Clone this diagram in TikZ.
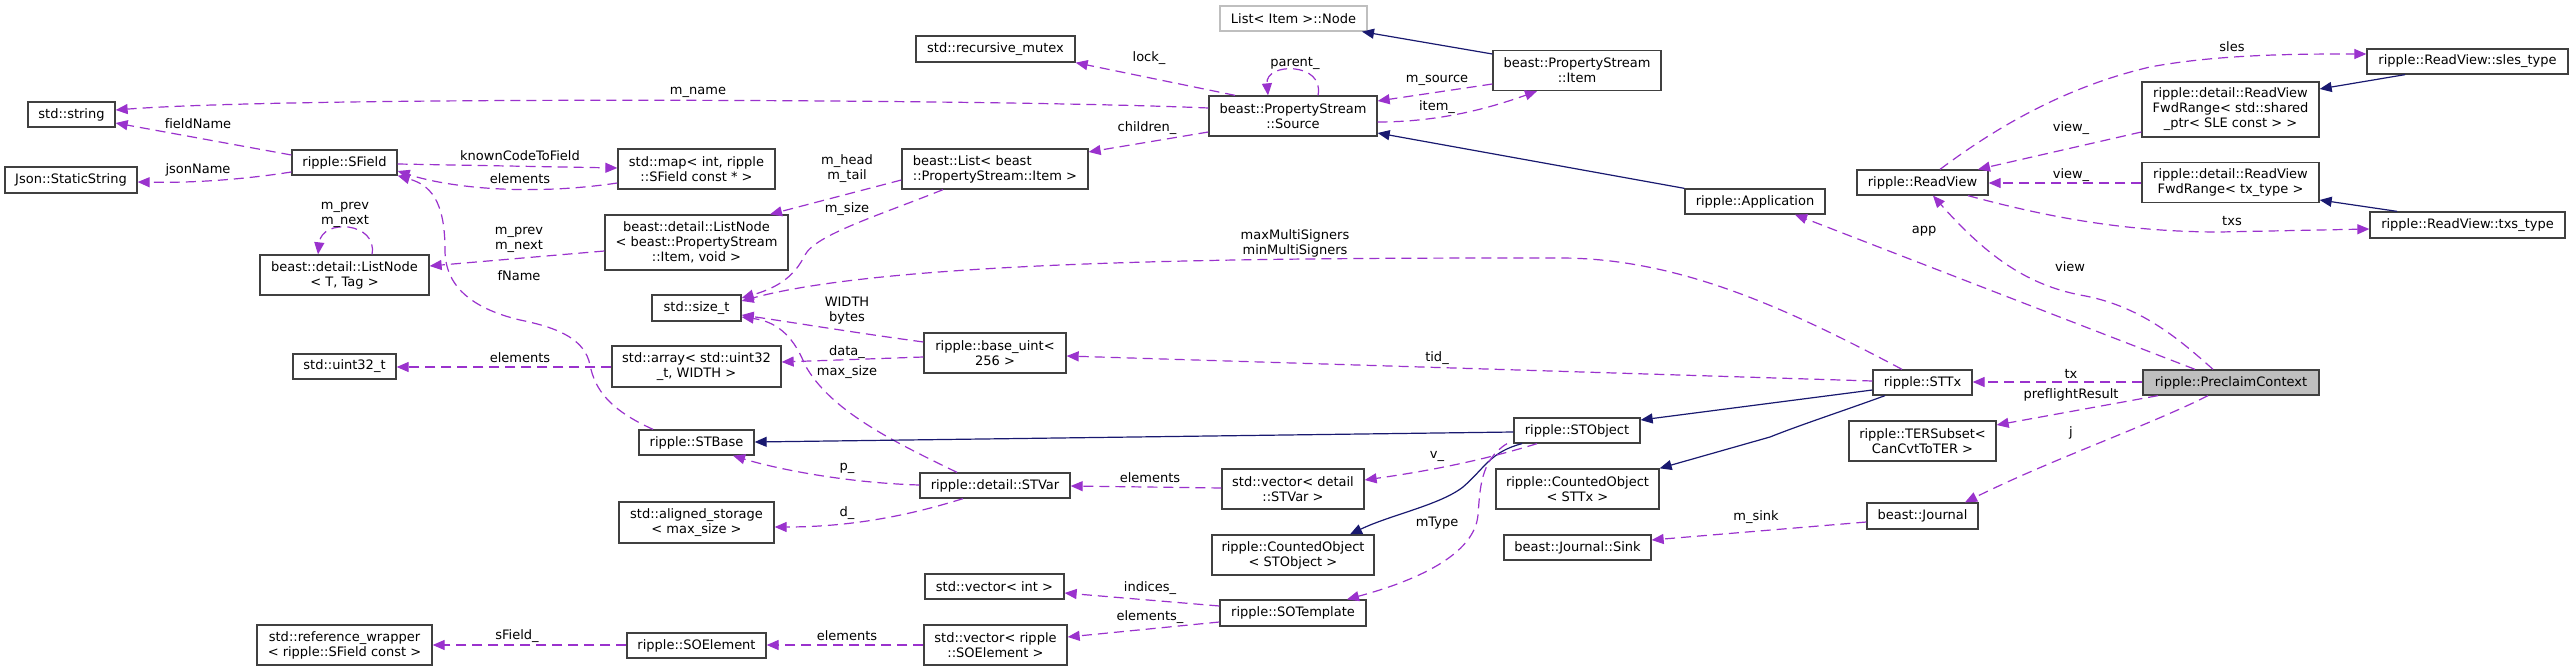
\documentclass[tikz,border=0pt]{standalone}
\usepackage{fontspec}
\setmainfont[Ligatures=NoCommon]{DejaVu Sans}
\usetikzlibrary{arrows.meta}
\definecolor{cuse}{HTML}{9A32CD}
\definecolor{cinh}{HTML}{191970}
\definecolor{cbord}{HTML}{404040}
\definecolor{lgray}{HTML}{BFBFBF}
\newcommand\dfs{\fontsize{13}{15}\selectfont}
\tikzset{
 box/.style={draw=cbord, line width=1.3pt, fill=white, inner sep=0pt, align=center, font=\dfs},
 uses/.style={color=cuse, line width=1.2pt, dash pattern=on 10pt off 6pt, -{Triangle[length=12pt,width=10pt]}},
 inherits/.style={color=cinh, line width=1.2pt, -{Triangle[length=12pt,width=10pt]}},
 lbl/.style={font=\dfs, inner sep=0pt, align=center},
}
\begin{document}
\begin{tikzpicture}[x=1pt,y=-1pt]
\fill[white] (0,0) rectangle (2573,671);
\useasboundingbox (0,0) rectangle (2573,671);
% nodes
\node[box, minimum width=87pt, minimum height=25pt] (string) at (71.5,114.5) {std::string};
\node[box, minimum width=132pt, minimum height=26pt] (json) at (71,180) {Json::StaticString};
\node[box, minimum width=105pt, minimum height=25pt] (sfield) at (344.5,162.5) {ripple::SField};
\node[box, minimum width=169pt, minimum height=40pt] (lnT) at (344.5,275) {beast::detail::ListNode\\< T, Tag >};
\node[box, minimum width=103pt, minimum height=25pt] (u32) at (344.5,366.5) {std::uint32\_t};
\node[box, minimum width=175pt, minimum height=40pt] (refw) at (344.5,645) {std::reference\_wrapper\\< ripple::SField const >};
\node[box, minimum width=157pt, minimum height=40pt] (map) at (696.5,169) {std::map< int, ripple\\::SField const * >};
\node[box, minimum width=183pt, minimum height=55pt] (lnI) at (696.5,242.5) {beast::detail::ListNode\\< beast::PropertyStream\\::Item, void >};
\node[box, minimum width=89pt, minimum height=26pt] (sizet) at (696.5,308) {std::size\_t};
\node[box, minimum width=169pt, minimum height=41pt] (array) at (696.5,366.5) {std::array< std::uint32\\\_t, WIDTH >};
\node[box, minimum width=115pt, minimum height=25pt] (stbase) at (696.5,442.5) {ripple::STBase};
\node[box, minimum width=155pt, minimum height=41pt] (aligned) at (696.5,522.5) {std::aligned\_storage\\< max\_size >};
\node[box, minimum width=139pt, minimum height=25pt] (soel) at (696.5,645.5) {ripple::SOElement};
\node[box, draw=lgray, minimum width=147pt, minimum height=25pt] (lnode) at (1293.5,18.5) {List< Item >::Node};
\node[box, minimum width=159pt, minimum height=26pt] (mutex) at (995.5,49) {std::recursive\_mutex};
\node[box, minimum width=168pt, minimum height=40pt] (source) at (1293,116) {beast::PropertyStream\\::Source};
\node[box, align=left, minimum width=186pt, minimum height=40pt] (blist) at (995,169) {beast::List< beast\\::PropertyStream::Item >};
\node[box, minimum width=142pt, minimum height=40pt] (baseuint) at (995,353) {ripple::base\_uint<\\256 >};
\node[box, minimum width=150pt, minimum height=25pt] (stvar) at (995,485.5) {ripple::detail::STVar};
\node[box, minimum width=142pt, minimum height=40pt] (vecstvar) at (1293,489) {std::vector< detail\\::STVar >};
\node[box, minimum width=162pt, minimum height=40pt] (costobj) at (1293,555) {ripple::CountedObject\\< STObject >};
\node[box, minimum width=139pt, minimum height=25pt] (vecint) at (994.5,586.5) {std::vector< int >};
\node[box, minimum width=143pt, minimum height=40pt] (vecsoel) at (995.5,645) {std::vector< ripple\\::SOElement >};
\node[box, minimum width=146pt, minimum height=26pt] (sotempl) at (1293,613) {ripple::SOTemplate};
\node[box, minimum width=168pt, minimum height=40pt] (psitem) at (1577,70.5) {beast::PropertyStream\\::Item};
\node[box, minimum width=140pt, minimum height=25pt] (app) at (1755,201.5) {ripple::Application};
\node[box, minimum width=126pt, minimum height=25pt] (stobj) at (1577,430.5) {ripple::STObject};
\node[box, minimum width=163pt, minimum height=40pt] (costtx) at (1577.5,489) {ripple::CountedObject\\< STTx >};
\node[box, minimum width=147pt, minimum height=25pt] (sink) at (1577.5,547.5) {beast::Journal::Sink};
\node[box, minimum width=131pt, minimum height=25pt] (readview) at (1922.5,182.5) {ripple::ReadView};
\node[box, minimum width=177pt, minimum height=55pt] (fwd1) at (2230.5,109.5) {ripple::detail::ReadView\\FwdRange< std::shared\\\_ptr< SLE const > >};
\node[box, minimum width=177pt, minimum height=40pt] (fwd2) at (2230.5,182.5) {ripple::detail::ReadView\\FwdRange< tx\_type >};
\node[box, minimum width=201pt, minimum height=25pt] (slestype) at (2467.5,61.5) {ripple::ReadView::sles\_type};
\node[box, minimum width=195pt, minimum height=26pt] (txstype) at (2467.5,225) {ripple::ReadView::txs\_type};
\node[box, minimum width=99pt, minimum height=25pt] (sttx) at (1922.5,382.5) {ripple::STTx};
\node[box, minimum width=147pt, minimum height=40pt] (ter) at (1922.5,441) {ripple::TERSubset<\\CanCvtToTER >};
\node[box, minimum width=111pt, minimum height=26pt] (journal) at (1922.5,516) {beast::Journal};
\node[box, fill=lgray, minimum width=176pt, minimum height=25pt] (pc) at (2231,382.5) {ripple::PreclaimContext};
% edges
\draw[uses] (sfield.west |- 0,155) -- (string.east |- 0,123);
\draw[uses] (source.west |- 0,108) .. controls (1000,99) and (300,96) .. (string.east |- 0,110);
\draw[uses] (sfield.west |- 0,172) .. controls (240,180) and (190,183) .. (json.east |- 0,182);
\draw[uses] (sfield.east |- 0,164) -- (map.west |- 0,168);
\draw[uses] (map.west |- 0,183) .. controls (530,196) and (450,188) .. (sfield.east |- 0,171);
\draw[uses] (stbase.north -| 653,0) .. controls (610,410) and (595,390) .. (590,365) .. controls (585,340) and (560,328) .. (520,320) .. controls (470,308) and (445,285) .. (445,250) .. controls (445,200) and (430,185) .. (sfield.south east);
\draw[uses] (lnT.north -| 372,0) .. controls (378,222) and (322,218) .. (lnT.north -| 318,0);
\draw[uses] (lnI.west |- 0,251) -- (lnT.east |- 0,266);
\draw[uses] (blist.west |- 0,180) -- (lnI.north -| 770,0);
\draw[uses] (blist.south -| 943,0) .. controls (880,215) and (815,235) .. (805,255) .. controls (795,275) and (780,287) .. (sizet.east |- 0,298);
\draw[uses] (sttx.north -| 1902,0) .. controls (1790,310) and (1680,258) .. (1560,258) .. controls (1300,258) and (900,258) .. (sizet.east |- 0,301);
\draw[uses] (baseuint.west |- 0,342) .. controls (850,332) and (790,322) .. (sizet.east |- 0,315);
\draw[uses] (stvar.north -| 957,0) .. controls (890,440) and (830,410) .. (805,365) .. controls (795,340) and (780,322) .. (sizet.east |- 0,317);
\draw[uses] (baseuint.west |- 0,357) -- (array.east |- 0,362);
\draw[uses] (array.west |- 0,367) -- (u32.east |- 0,367);
\draw[uses] (source.north -| 1235,0) -- (mutex.south east);
\draw[uses] (source.north -| 1318,0) .. controls (1325,62) and (1265,62) .. (source.north -| 1268,0);
\draw[uses] (source.west |- 0,132) -- (blist.east |- 0,152);
\draw[uses] (psitem.west |- 0,84) -- (source.east |- 0,101);
\draw[uses] (source.east |- 0,122) .. controls (1440,122) and (1490,108) .. (psitem.south -| 1537,0);
\draw[inherits] (psitem.west |- 0,54) -- (lnode.south -| 1362,0);
\draw[inherits] (app.north west) -- (source.east |- 0,133);
\draw[uses] (pc.north -| 2195,0) -- (app.south -| 1795,0);
\draw[uses] (pc.north -| 2213,0) .. controls (2180,340) and (2140,305) .. (2080,295) .. controls (2030,285) and (1990,260) .. (readview.south -| 1933,0);
\draw[uses] (readview.north -| 1940,0) .. controls (1990,132) and (2060,88) .. (2150,67) .. controls (2220,54) and (2300,54) .. (slestype.west |- 0,54);
\draw[uses] (readview.south -| 1968,0) .. controls (2040,215) and (2120,232) .. (2220,232) -- (txstype.west |- 0,229);
\draw[uses] (fwd1.west |- 0,132) -- (readview.north -| 1978,0);
\draw[uses] (fwd2.west |- 0,183) -- (readview.east |- 0,183);
\draw[inherits] (slestype.south -| 2405,0) -- (fwd1.east |- 0,89);
\draw[inherits] (txstype.north -| 2397,0) -- (fwd2.east |- 0,200);
\draw[uses] (pc.west |- 0,382) -- (sttx.east |- 0,382);
\draw[uses] (pc.south -| 2158,0) -- (ter.east |- 0,425);
\draw[uses] (pc.south -| 2208,0) .. controls (2150,425) and (2050,460) .. (journal.north -| 1965,0);
\draw[uses] (journal.west |- 0,522) -- (sink.east |- 0,540);
\draw[uses] (sttx.west |- 0,381) -- (baseuint.east |- 0,356);
\draw[inherits] (sttx.west |- 0,390) -- (stobj.east |- 0,420);
\draw[inherits] (sttx.south -| 1885,0) .. controls (1840,412) and (1800,425) .. (1770,437) -- (costtx.north east);
\draw[inherits] (stobj.west |- 0,432) -- (stbase.east |- 0,442);
\draw[inherits] (stobj.south -| 1522,0) .. controls (1490,452) and (1485,468) .. (1463,487) .. controls (1440,505) and (1390,515) .. (costobj.north -| 1350,0);
\draw[uses] (stobj.south -| 1537,0) .. controls (1500,455) and (1450,468) .. (vecstvar.east |- 0,480);
\draw[uses] (stobj.south -| 1507,0) .. controls (1480,460) and (1480,490) .. (1478,515) .. controls (1474,560) and (1400,585) .. (sotempl.north -| 1347,0);
\draw[uses] (vecstvar.west |- 0,488) -- (stvar.east |- 0,486);
\draw[uses] (stvar.west |- 0,485) .. controls (850,483) and (780,470) .. (stbase.south -| 733,0);
\draw[uses] (stvar.south -| 963,0) .. controls (920,512) and (860,527) .. (aligned.east |- 0,527);
\draw[uses] (sotempl.west |- 0,606) -- (vecint.east |- 0,593);
\draw[uses] (sotempl.west |- 0,622) -- (vecsoel.east |- 0,637);
\draw[uses] (vecsoel.west |- 0,645) -- (soel.east |- 0,645);
\draw[uses] (soel.west |- 0,645) -- (refw.east |- 0,645);
% labels
\node[lbl] (t1) at (198,124) {fieldName};
\node[lbl] (t2) at (198,170) {jsonName};
\node[lbl] (t3) at (345,214.5) {m\_prev\\m\_next};
\node[lbl] (t4) at (698,92) {m\_name};
\node[lbl] (t5) at (520,156) {knownCodeToField};
\node[lbl] (t6) at (520,179) {elements};
\node[lbl] (t7) at (847,169) {m\_head\\m\_tail};
\node[lbl] (t8) at (847,209) {m\_size};
\node[lbl] (t9) at (519,239.5) {m\_prev\\m\_next};
\node[lbl] (t10) at (519,276) {fName};
\node[lbl] (t11) at (847,310.5) {WIDTH\\bytes};
\node[lbl] (t12) at (520,358) {elements};
\node[lbl] (t13) at (847,352) {data\_};
\node[lbl] (t14) at (847,372) {max\_size};
\node[lbl] (t15) at (847,468) {p\_};
\node[lbl] (t16) at (847,513) {d\_};
\node[lbl] (t17) at (517,636) {sField\_};
\node[lbl] (t18) at (847,636) {elements};
\node[lbl] (t19) at (1149,58) {lock\_};
\node[lbl] (t20) at (1295,63) {parent\_};
\node[lbl] (t21) at (1147,128) {children\_};
\node[lbl] (t22) at (1295,243) {maxMultiSigners\\minMultiSigners};
\node[lbl] (t23) at (1150,478) {elements};
\node[lbl] (t24) at (1150,588) {indices\_};
\node[lbl] (t25) at (1150,617) {elements\_};
\node[lbl] (t26) at (1437,80) {m\_source};
\node[lbl] (t27) at (1437,107) {item\_};
\node[lbl] (t28) at (1437,358) {tid\_};
\node[lbl] (t29) at (1437,456) {v\_};
\node[lbl] (t30) at (1437,523) {mType};
\node[lbl] (t31) at (1756,517) {m\_sink};
\node[lbl] (t32) at (2071,128) {view\_};
\node[lbl] (t33) at (2071,175) {view\_};
\node[lbl] (t34) at (1924,231) {app};
\node[lbl] (t35) at (2070,267) {view};
\node[lbl] (t36) at (2232,47) {sles};
\node[lbl] (t37) at (2232,221) {txs};
\node[lbl] (t38) at (2071,374) {tx};
\node[lbl] (t39) at (2071,395) {preflightResult};
\node[lbl] (t40) at (2071,433) {j};
\end{tikzpicture}
\end{document}
